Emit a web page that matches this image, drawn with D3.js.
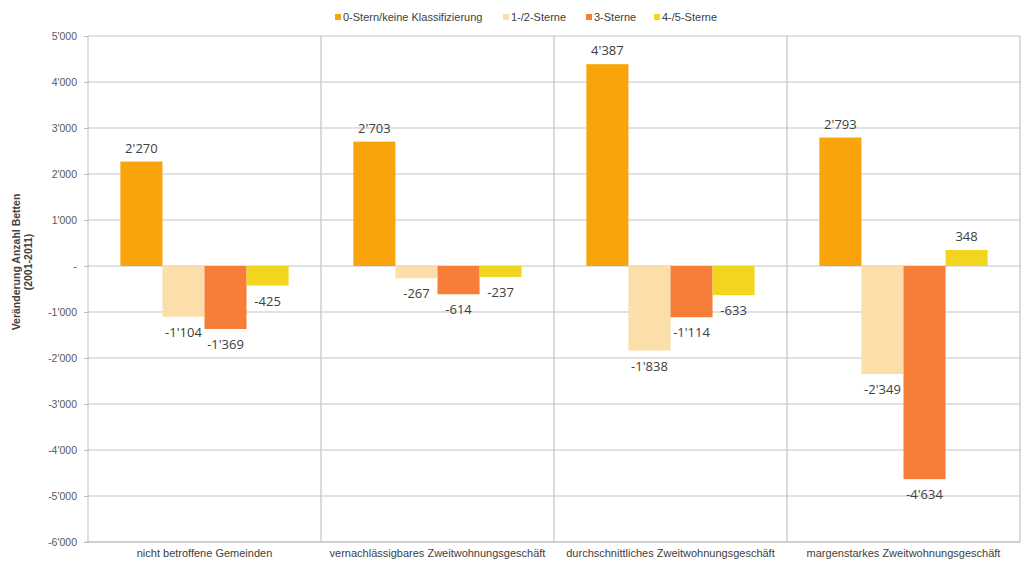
<!DOCTYPE html>
<meta charset="utf-8">
<title>Veränderung Anzahl Betten 2001-2011</title>
<style>
body { margin: 0; background: #fff; }
svg { display: block; font-family: "Liberation Sans", Arial, sans-serif; }
.grid line { stroke: #c4c4c4; stroke-width: 1.2px; }
.sep { stroke: #c4c4c4; stroke-width: 1.2px; }
.axis text { fill: #595959; font-size: 10.5px; }
.axis path, .axis line { stroke: #bfbfbf; }
.value { font-family: "Open Sans", "Noto Sans", sans-serif; font-size: 13px; fill: #404040; text-anchor: middle; }
.legend text { font-size: 11px; fill: #404040; }
.ytitle { font-size: 10.5px; font-weight: bold; fill: #404040; text-anchor: middle; }
</style>
<svg id="chart" width="1024" height="563"></svg>
<script src="https://d3js.org/d3.v7.min.js"></script>
<script>
// data
const categories = [
  "nicht betroffene Gemeinden",
  "vernachlässigbares Zweitwohnungsgeschäft",
  "durchschnittliches Zweitwohnungsgeschäft",
  "margenstarkes Zweitwohnungsgeschäft"
];
const seriesNames = ["0-Stern/keine Klassifizierung", "1-/2-Sterne", "3-Sterne", "4-/5-Sterne"];
const stern0 = [2270, 2703, 4387, 2793];
const stern12 = [-1104, -267, -1838, -2349];
const stern3 = [-1369, -614, -1114, -4634];
const stern45 = [-425, -237, -633, 348];
const yTicks = [5000, 4000, 3000, 2000, 1000, 0, -1000, -2000, -3000, -4000, -5000, -6000];

const colors = ["#f9a40b", "#fcdeab", "#f77e38", "#f2d51f"];
const seriesValues = [stern0, stern12, stern3, stern45];

let svg = d3.select("#chart"),
    margin = {top: 36, right: 4, bottom: 21, left: 88},
    width = 1024 - margin.left - margin.right,
    height = 563 - margin.top - margin.bottom;

let loc = d3.formatLocale({decimal: ".", thousands: "'", grouping: [3], currency: ["", ""], minus: "-"});
let fmt = loc.format(",");
let tickFmt = v => v === 0 ? "-" : fmt(v);

let x0 = d3.scaleBand().domain(categories).range([0, width]).padding(0),
    x1 = d3.scaleBand().domain(seriesNames).range([0, x0.bandwidth()]).paddingInner(0).paddingOuter(0.77),
    y = d3.scaleLinear().domain([-6000, 5000]).range([height, 0]);

let g = svg.append("g").attr("transform", "translate(" + margin.left + "," + margin.top + ")");

// horizontal gridlines
g.append("g").attr("class", "grid")
  .selectAll("line").data(yTicks).enter().append("line")
    .attr("x1", 0).attr("x2", width)
    .attr("y1", d => y(d)).attr("y2", d => y(d));

// group separators
g.selectAll(".sep").data(categories.slice(1).concat([null])).enter().append("line")
  .attr("class", "sep")
  .attr("x1", d => d === null ? width : x0(d))
  .attr("x2", d => d === null ? width : x0(d))
  .attr("y1", y(5000)).attr("y2", y(-6000));

// y axis
let yAxis = g.append("g").attr("class", "axis")
  .call(d3.axisLeft(y).tickValues(yTicks).tickFormat(tickFmt).tickSize(4).tickPadding(7));
yAxis.select(".domain").attr("d", "M0," + y(5000) + "V" + y(-6000));

// bottom axis line + category labels
g.append("line").attr("x1", -3).attr("x2", width)
  .attr("y1", height).attr("y2", height)
  .attr("stroke", "#bfbfbf");
g.append("g").selectAll("text").data(categories).enter().append("text")
  .attr("x", d => x0(d) + x0.bandwidth() / 2)
  .attr("y", height + 15)
  .attr("text-anchor", "middle")
  .attr("font-size", 11)
  .attr("fill", "#404040")
  .text(d => d);

// bars
let rows = [];
categories.forEach((c, i) => seriesNames.forEach((s, j) => rows.push({cat: c, ser: s, idx: j, value: seriesValues[j][i]})));

g.append("g").selectAll("rect").data(rows).enter().append("rect")
  .attr("x", d => x0(d.cat) + x1(d.ser))
  .attr("width", x1.bandwidth())
  .attr("y", d => y(Math.max(0, d.value)))
  .attr("height", d => Math.abs(y(d.value) - y(0)))
  .attr("fill", d => colors[d.idx]);

g.append("g").selectAll("text").data(rows).enter().append("text")
  .attr("class", "value")
  .attr("x", d => x0(d.cat) + x1(d.ser) + x1.bandwidth() / 2)
  .attr("y", d => d.value >= 0 ? y(d.value) - 9 : y(d.value) + 20)
  .text(d => fmt(d.value));

// y title
let yt = svg.append("text").attr("class", "ytitle")
  .attr("transform", "translate(20,262) rotate(-90)");
yt.append("tspan").attr("x", 0).attr("dy", 0).text("Veränderung Anzahl Betten");
yt.append("tspan").attr("x", 0).attr("dy", 12).text("(2001-2011)");

// legend
let legendX = [335, 503, 586, 654];
let legend = svg.append("g").attr("class", "legend");
seriesNames.forEach((s, i) => {
  legend.append("rect").attr("x", legendX[i]).attr("y", 14).attr("width", 6).attr("height", 6).attr("fill", colors[i]);
  legend.append("text").attr("x", legendX[i] + 8).attr("y", 21).text(s);
});
</script>
